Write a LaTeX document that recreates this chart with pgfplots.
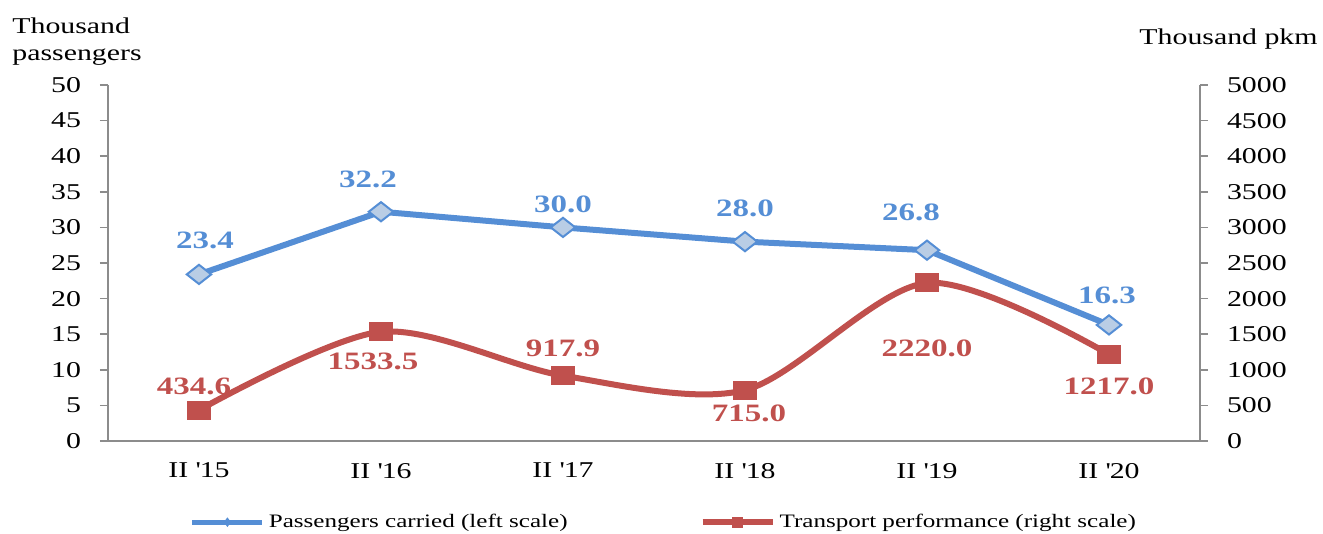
\documentclass[border=0pt]{standalone}
\usepackage{fontspec}
\setmainfont{Liberation Serif}
\newfontfamily\wide{Liberation Serif}[FakeStretch=1.32]
\usepackage{pgfplots}
\usepackage{pgfplotstable}
\pgfplotsset{compat=1.18}
\definecolor{pblue}{HTML}{558ED5}
\definecolor{pbluefill}{HTML}{B9CDE5}
\definecolor{pred}{HTML}{C0504D}
\definecolor{axgray}{HTML}{8C8C8C}

\pgfplotsset{
  bluelegend/.style={legend image code/.code={\draw[##1, mark repeat=2, mark phase=2, mark size=2pt, mark options={line width=0.5pt}] plot coordinates {(0pt,0pt) (17.5pt,0pt) (35pt,0pt)};}},
  redlegend/.style={legend image code/.code={\draw[##1, mark repeat=2, mark phase=2, mark size=2.5pt, mark options={xscale=1, line width=0.5pt}] plot coordinates {(0pt,0pt) (17.5pt,0pt) (35pt,0pt)};}},
}

\pgfplotstableread{
x y dx dy
0 23.4 3 17
1 32.2 -6.5 16
2 30.0 0 11.5
3 28.0 0 16.5
4 26.8 -8 19
5 16.3 -1 15
}\bluedata

\pgfplotstableread{
x y dx dy
0 434.6 -2.5 12
1 1533.5 -4 -15
2 917.9 0 13.5
3 715.0 2 -11.5
4 2220.0 0 -32.5
5 1217.0 0 -16
}\reddata

\begin{document}
\begin{tikzpicture}
\useasboundingbox (-54pt,-46.5pt) rectangle (607.5pt,220.5pt);
\pgfplotsset{
  common/.style={
    scale only axis, width=546pt, height=178pt,
    xmin=-0.5, xmax=5.5, xtick={0,...,5},
    axis line style={axgray, line width=0.75pt},
    every tick/.style={axgray, line width=0.75pt},
    tick align=outside,
    major tick length=4pt,
    /pgf/number format/assume math mode=true,
    /pgf/number format/1000 sep={},
    tick label style={font=\wide\fontsize{11.3}{13}\selectfont, black},
    clip=false,
  }
}
\begin{axis}[common,
  ymin=0, ymax=50, ytick={0,5,...,50},
  axis x line*=bottom, axis y line*=left,
  xticklabels={II \textquotesingle15, II \textquotesingle16, II \textquotesingle17, II \textquotesingle18, II \textquotesingle19, II \textquotesingle20},
  x tick style={draw=none},
  xticklabel style={yshift=-3.5pt},
  yticklabel style={xshift=-6pt},
]
\addplot[pblue, line width=3pt, mark=diamond*,
  mark size=4.8pt,
  mark options={xscale=1.7, fill=pbluefill, draw=pblue, line width=1pt},
  point meta=explicit symbolic,
  visualization depends on={\thisrow{dx} \as \dx},
  visualization depends on={\thisrow{dy} \as \dy},
  nodes near coords,
  every node near coord/.style={anchor=center, xshift=\dx pt, yshift=\dy pt,
    font=\wide\bfseries\fontsize{12.5}{14}\selectfont, text=pblue, inner sep=0pt},
] table[x=x, y=y, meta=y] {\bluedata};
\end{axis}
\begin{axis}[common,
  ymin=0, ymax=5000, ytick={0,500,...,5000},
  axis y line*=right, axis x line=none,
  yticklabel style={xshift=6pt},
  legend style={at={(axis description cs:0.51,-0.228)}, anchor=center, draw=none,
    font=\wide\fontsize{9.5}{12}\selectfont, fill=none},
  legend columns=2,
  legend cell align=left,
  /tikz/every even column/.append style={column sep=64pt},
]
\addlegendimage{pblue, line width=2.5pt, mark=diamond*,
  mark options={fill=pbluefill, draw=pblue}, bluelegend}
\addlegendentry{Passengers carried (left scale)}
\addplot[pred, line width=3pt, smooth, tension=0.5, mark=square*,
  mark size=4.5pt,
  mark options={xscale=1.33, fill=pred, draw=pred, line width=0.5pt},
  point meta=explicit symbolic,
  visualization depends on={\thisrow{dx} \as \dx},
  visualization depends on={\thisrow{dy} \as \dy},
  nodes near coords,
  every node near coord/.style={anchor=center, xshift=\dx pt, yshift=\dy pt,
    font=\wide\bfseries\fontsize{12.5}{14}\selectfont, text=pred, inner sep=0pt},
  redlegend,
] table[x=x, y=y, meta=y] {\reddata};
\addlegendentry{Transport performance (right scale)}
\end{axis}
\node[anchor=north west, align=left, inner sep=0pt, font=\wide\fontsize{11.3}{13.5}\selectfont] at (-48pt,212pt) {Thousand\\passengers};
\node[anchor=north east, inner sep=0pt, font=\wide\fontsize{11.3}{13.5}\selectfont] at (605pt,206.5pt) {Thousand pkm};
\end{tikzpicture}
\end{document}
